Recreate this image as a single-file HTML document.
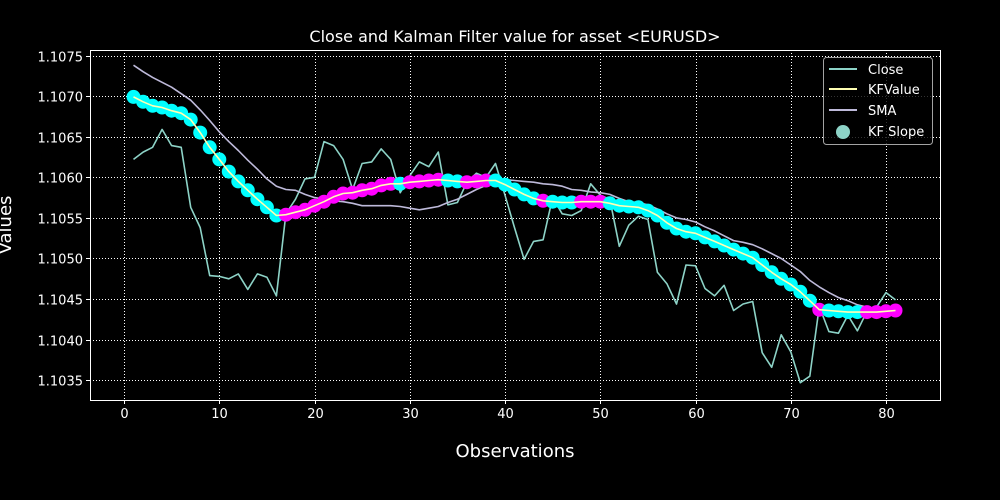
<!DOCTYPE html>
<html><head><meta charset="utf-8"><style>
html,body{margin:0;padding:0;background:#000;}
svg{display:block;font-family:"DejaVu Sans","Liberation Sans",sans-serif;}
</style></head><body>
<svg id="chart" width="1000" height="500" viewBox="0 0 1000 500">
<rect x="0" y="0" width="1000" height="500" fill="#000"/>
<g id="grid"></g>
<g id="series"></g>
<rect x="90.5" y="50.5" width="850" height="350" fill="none" stroke="#fff" stroke-width="1"/>
<g id="ticks"></g>
<text x="515" y="42" font-size="16" fill="#fff" text-anchor="middle">Close and Kalman Filter value for asset &lt;EURUSD&gt;</text>
<text x="515" y="457" font-size="18" fill="#fff" text-anchor="middle">Observations</text>
<text transform="translate(11,225) rotate(-90)" font-size="18" fill="#fff" text-anchor="middle">Values</text>
<g>
<rect x="823.5" y="57.5" width="109" height="87" rx="3" fill="#000" fill-opacity="0.8" stroke="#cccccc" stroke-opacity="0.8"/>
<line x1="829" y1="69" x2="857" y2="69" stroke="#8dd3c7" stroke-width="2"/>
<text x="868" y="74" font-size="13" fill="#fff">Close</text>
<line x1="829" y1="89" x2="857" y2="89" stroke="#ffffb3" stroke-width="2"/>
<text x="868" y="94" font-size="13" fill="#fff">KFValue</text>
<line x1="829" y1="110" x2="857" y2="110" stroke="#bebada" stroke-width="2"/>
<text x="868" y="115" font-size="13" fill="#fff">SMA</text>
<circle cx="843" cy="132" r="7" fill="#8dd3c7"/>
<text x="868" y="136" font-size="13" fill="#fff">KF Slope</text>
</g>
</svg>
<script>
const closeVals=[1.10622,1.10631,1.10637,1.10659,1.10639,1.10637,1.10563,1.10538,1.10479,1.10478,1.10475,1.10481,1.10462,1.10481,1.10477,1.10454,1.10555,1.10573,1.10598,1.10600,1.10644,1.10639,1.10622,1.10585,1.10617,1.10619,1.10635,1.10622,1.10581,1.10602,1.10619,1.10613,1.10631,1.10566,1.10569,1.10594,1.10605,1.10600,1.10617,1.10578,1.10538,1.10499,1.10521,1.10523,1.10575,1.10555,1.10553,1.10559,1.10592,1.10578,1.10573,1.10515,1.10541,1.10552,1.10548,1.10483,1.10469,1.10444,1.10492,1.10491,1.10463,1.10454,1.10467,1.10436,1.10444,1.10447,1.10384,1.10366,1.10406,1.10385,1.10347,1.10355,1.10441,1.10410,1.10408,1.10430,1.10411,1.10435,1.10440,1.10458,1.10449];
const kfVals=[1.10699,1.10693,1.10688,1.10686,1.10682,1.10679,1.10671,1.10655,1.10637,1.10622,1.10607,1.10595,1.10584,1.10573,1.10563,1.10553,1.10554,1.10557,1.10560,1.10565,1.10570,1.10576,1.10580,1.10581,1.10584,1.10586,1.10590,1.10592,1.10592,1.10594,1.10595,1.10596,1.10597,1.10596,1.10595,1.10594,1.10595,1.10596,1.10596,1.10591,1.10585,1.10579,1.10574,1.10571,1.10570,1.10569,1.10569,1.10570,1.10570,1.10570,1.10568,1.10565,1.10564,1.10563,1.10559,1.10553,1.10544,1.10537,1.10533,1.10531,1.10526,1.10521,1.10516,1.10511,1.10506,1.10501,1.10492,1.10483,1.10475,1.10468,1.10459,1.10448,1.10437,1.10436,1.10435,1.10434,1.10434,1.10434,1.10434,1.10435,1.10436];
const smaVals=[1.10738,1.10730,1.10723,1.10717,1.10711,1.10703,1.10695,1.10683,1.10670,1.10656,1.10644,1.10633,1.10621,1.10610,1.10598,1.10589,1.10585,1.10584,1.10579,1.10575,1.10573,1.10571,1.10570,1.10568,1.10565,1.10565,1.10565,1.10565,1.10564,1.10562,1.10560,1.10562,1.10564,1.10569,1.10573,1.10579,1.10585,1.10590,1.10595,1.10597,1.10596,1.10595,1.10594,1.10592,1.10591,1.10589,1.10585,1.10584,1.10582,1.10581,1.10579,1.10574,1.10570,1.10569,1.10566,1.10561,1.10555,1.10550,1.10548,1.10545,1.10539,1.10534,1.10528,1.10522,1.10520,1.10517,1.10512,1.10506,1.10500,1.10492,1.10484,1.10473,1.10465,1.10458,1.10452,1.10448,1.10443,1.10440,1.10436,1.10432,1.10430];
// 1 = rising slope (magenta), 0 = falling (cyan)
const slopeUp=[0,0,0,0,0,0,0,0,0,0,0,0,0,0,0,0,1,1,1,1,1,1,1,1,1,1,1,1,0,1,1,1,1,0,0,1,1,1,0,0,0,0,0,1,0,0,0,1,1,1,0,0,0,0,0,0,0,0,0,0,0,0,0,0,0,0,0,0,0,0,0,0,1,0,0,0,0,1,1,1,1];
const xTicks=[0,10,20,30,40,50,60,70,80];
const yTicks=[1.1035,1.1040,1.1045,1.1050,1.1055,1.1060,1.1065,1.1070,1.1075];

const NS="http://www.w3.org/2000/svg";
const X0=90,X1=940,Y0=50,Y1=400;
const xMin=-3.57,xMax=(940-124)/9.525;
const yTop=1.1075+(55.5-50)/81.2*0.001, yBot=1.1075-(400-55.5)/81.2*0.001;
function sx(v){return X0+(v-xMin)/(xMax-xMin)*(X1-X0);}
function sy(v){return Y0+(yTop-v)/(yTop-yBot)*(Y1-Y0);}
function mk(tag,attrs,parent){const e=document.createElementNS(NS,tag);for(const k in attrs)e.setAttribute(k,attrs[k]);parent.appendChild(e);return e;}
const grid=document.getElementById('grid'),ticks=document.getElementById('ticks'),series=document.getElementById('series');
xTicks.forEach(t=>{const x=Math.round(sx(t))+0.5;
 const g=mk('line',{x1:x,y1:Y0,x2:x,y2:Y1,stroke:'#fff','stroke-width':1,'stroke-dasharray':'1,2'},grid);
 
 
 const tk=mk('line',{x1:x,y1:Y1,x2:x,y2:Y1+4,stroke:'#fff'},ticks);
 
 
 const tl=mk('text',{x:x,y:Y1+18,'font-size':13,fill:'#fff','text-anchor':'middle'},ticks);tl.textContent=t;
 
 
});
yTicks.forEach(t=>{const y=Math.round(sy(t))+0.5;
 const g=mk('line',{x1:X0,y1:y,x2:X1,y2:y,stroke:'#fff','stroke-width':1,'stroke-dasharray':'1,2'},grid);
 
 
 const tk=mk('line',{x1:X0-4,y1:y,x2:X0,y2:y,stroke:'#fff'},ticks);
 
 
 const tl=mk('text',{x:X0-7,y:y+5,'font-size':13,fill:'#fff','text-anchor':'end'},ticks);tl.textContent=t.toFixed(4);
 
 
});
function line(vals,color,name){
 const d=vals.map((v,i)=>(i?'L':'M')+sx(i+1).toFixed(1)+','+sy(v).toFixed(1)).join('');
 const p=mk('path',{d:d,fill:'none',stroke:color,'stroke-width':1.6,'stroke-linejoin':'round'},series);
 
 
}
line(closeVals,'#8dd3c7','close-line');
line(smaVals,'#bebada','sma-line');
kfVals.forEach((v,i)=>{
 const c=mk('circle',{cx:sx(i+1).toFixed(1),cy:sy(v).toFixed(1),r:7,fill:slopeUp[i]?'#ff00ff':'#00ffff'},series);
 
 
});
line(kfVals,'#ffffb3','kfvalue-line');
</script>
</body></html>
